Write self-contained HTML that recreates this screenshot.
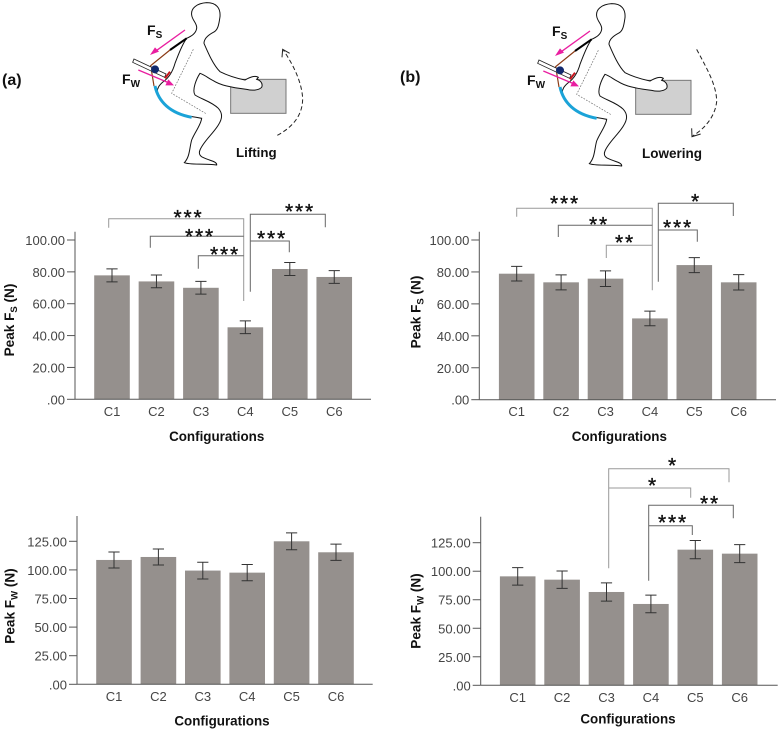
<!DOCTYPE html>
<html lang="en">
<head>
<meta charset="utf-8">
<title>Peak Fs and Fw by configuration</title>
<style>
html,body{margin:0;padding:0;background:#fff;width:779px;height:731px;overflow:hidden}
svg{display:block}
text{font-family:"Liberation Sans",Arial,sans-serif}
.star{font-size:21px;letter-spacing:1.8px;fill:#111;stroke:#111;stroke-width:.35;text-anchor:middle}
.lbl{font-weight:bold;fill:#111}
.br{fill:none;stroke:#666;stroke-width:1}
.brl{fill:none;stroke:#999;stroke-width:1}
</style>
</head>
<body>
<svg id="figure" width="779" height="731" viewBox="0 0 779 731" xmlns="http://www.w3.org/2000/svg">
  <defs>
    <g id="person">
      <rect x="692" y="238" width="166" height="102" fill="#d0d0d0" stroke="#777" stroke-width="3"/>
      <path d="M620 8C590 10 572 25 575 45C577 62 592 70 590 85C588 100 575 108 560 115C545 135 535 165 525 190C518 215 508 232 490 245C478 255 470 265 472 280C478 300 488 310 499 318C520 335 550 347 590 352L605 355C603 375 585 395 575 420C568 445 570 470 553 488C570 495 610 490 650 495C652 485 630 482 615 475C600 470 595 462 600 450C610 425 640 400 655 375C668 355 668 340 655 325C635 305 605 298 585 285C575 270 590 235 600 220C615 225 625 235 640 242C660 255 690 262 740 268C755 272 775 272 785 262C790 250 780 240 770 238L775 232C765 225 750 232 735 240C710 235 680 225 660 215C640 195 625 160 612 130C612 115 625 105 640 97C655 90 657 70 660 50C662 25 650 8 620 8Z" fill="#fff" stroke="#111" stroke-width="3"/>
      <path d="M580 148L515 280L620 342" fill="none" stroke="#666" stroke-width="2" stroke-dasharray="5 4"/>
      <path d="M465 258C475 305 510 340 575 352" fill="none" stroke="#1ba3d8" stroke-width="9"/>
      <path d="M510 150L452 197L462 258" fill="none" stroke="#8a3a14" stroke-width="3.5"/>
      <path d="M510 150L560 115" fill="none" stroke="#000" stroke-width="6"/>
      <path d="M402 177L498 222L494 232L398 187Z" fill="#fff" stroke="#222" stroke-width="2.5"/>
      <path d="M495 235L510 215" fill="none" stroke="#c8141c" stroke-width="6"/>
      <circle cx="465" cy="208" r="12" fill="#12296e"/>
      <path d="M555 90L462 157" fill="none" stroke="#e91ea0" stroke-width="4"/>
      <path d="M450 165L477 155L465 142Z" fill="#e91ea0"/>
      <path d="M415 210L505 248" fill="none" stroke="#e91ea0" stroke-width="4"/>
      <path d="M522 256L496 256L505 238Z" fill="#e91ea0"/>
    </g>
  </defs>

  <g id="illustration-a" transform="scale(0.33333)">
    <use href="#person"/>
    <path d="M832 406C880 380 908 345 908 295C905 245 880 195 850 150" fill="none" stroke="#222" stroke-width="3" stroke-dasharray="13 8"/>
    <path d="M846 172L848 148L869 160" fill="none" stroke="#222" stroke-width="3"/>
  </g>
  <g id="illustration-b" transform="translate(405 1) scale(0.33333)">
    <use href="#person"/>
  </g>
  <g transform="translate(390 0) scale(0.33333)">
    <path d="M920 148C950 205 980 255 980 305C975 350 945 385 908 408" fill="none" stroke="#222" stroke-width="3" stroke-dasharray="13 8"/>
    <path d="M905 385L906 410L932 402" fill="none" stroke="#222" stroke-width="3"/>
  </g>

  <text class="lbl" x="2" y="85" font-size="16">(a)</text>
  <text class="lbl" x="400" y="82" font-size="16">(b)</text>
  <text class="lbl" x="236" y="157" font-size="13.3">Lifting</text>
  <text class="lbl" x="642" y="158" font-size="13.5">Lowering</text>
  <text class="lbl" x="147" y="35" font-size="14">F<tspan dy="3" font-size="10">S</tspan></text>
  <text class="lbl" x="122" y="84" font-size="14">F<tspan dy="3" font-size="10">W</tspan></text>
  <text class="lbl" x="552" y="36" font-size="14">F<tspan dy="3" font-size="10">S</tspan></text>
  <text class="lbl" x="527" y="85" font-size="14">F<tspan dy="3" font-size="10">W</tspan></text>

  <g id="chart-fs-lifting"></g>
  <g id="chart-fs-lowering"></g>
  <g id="chart-fw-lifting"></g>
  <g id="chart-fw-lowering"></g>

  <g>
    <path class="brl" d="M108.7 227.7V218.7H243.7V301"/>
    <path class="br" d="M150.3 247.7V236.3H243.7"/>
    <path class="br" d="M198.3 268.7V255.7H243.7"/>
    <path class="br" d="M250.3 291.7V214.3H325.3V227.3"/>
    <path class="br" d="M250.3 241H289.3V252.3"/>
    <text class="star" x="188.5" y="224.5">***</text>
    <text class="star" x="200" y="243.5">***</text>
    <text class="star" x="225" y="261.5">***</text>
    <text class="star" x="272" y="245.5">***</text>
    <text class="star" x="300" y="218.5">***</text>
  </g>
  <g>
    <path class="brl" d="M516.7 216.7V208.3H652.3V290.3"/>
    <path class="br" d="M558.3 237V225.3H652.3"/>
    <path class="brl" d="M606.3 258V245.3H652.3"/>
    <path class="br" d="M658.3 281.7V203.3H733.3V216"/>
    <path class="br" d="M658.3 230H697.3V241.7"/>
    <text class="star" x="565" y="210.5">***</text>
    <text class="star" x="599" y="231.5">**</text>
    <text class="star" x="625" y="249.5">**</text>
    <text class="star" x="678" y="234.5">***</text>
    <text class="star" x="696" y="208.5">*</text>
  </g>
  <g>
    <path class="brl" d="M608.7 568.3V468.7H729V482.3"/>
    <path class="brl" d="M608.7 488H690.7V497.7"/>
    <path class="br" d="M648.7 580.7V505.3H733.3V518.3"/>
    <path class="br" d="M648.7 525.7H692.3V535"/>
    <text class="star" x="673" y="472.5">*</text>
    <text class="star" x="653" y="492.5">*</text>
    <text class="star" x="710" y="510.5">**</text>
    <text class="star" x="673" y="529.5">***</text>
  </g>
</svg>
<script>
const categories = ["C1", "C2", "C3", "C4", "C5", "C6"];

const fsTicks = [0, 20, 40, 60, 80, 100];
const fsTickLabels = [".00", "20.00", "40.00", "60.00", "80.00", "100.00"];
const fwTicks = [0, 25, 50, 75, 100, 125];
const fwTickLabels = [".00", "25.00", "50.00", "75.00", "100.00", "125.00"];

const fsLiftingValues = [77.8, 74.0, 70.0, 45.2, 81.8, 76.8];
const fsLiftingErrors = [4.1, 4.0, 4.0, 4.0, 4.1, 4.0];
const fsLoweringValues = [78.9, 73.5, 75.8, 50.9, 84.3, 73.5];
const fsLoweringErrors = [4.6, 4.7, 4.9, 4.6, 4.7, 4.8];
const fwLiftingValues = [108.7, 111.3, 99.4, 97.6, 125.0, 115.4];
const fwLiftingErrors = [7.0, 7.0, 7.3, 7.1, 7.4, 7.1];
const fwLoweringValues = [95.5, 92.6, 81.8, 71.3, 118.9, 115.4];
const fwLoweringErrors = [7.7, 7.6, 8.0, 7.7, 8.0, 7.9];

const NS = "http://www.w3.org/2000/svg";

function mk(parent, tag, attrs, text) {
  const el = document.createElementNS(NS, tag);
  for (const k in attrs) el.setAttribute(k, attrs[k]);
  if (text !== undefined) el.textContent = text;
  parent.appendChild(el);
  return el;
}

function drawChart(o) {
  const g = document.getElementById(o.id);
  const y = v => o.y0 - (v / o.tickMax) * (o.y0 - o.yTickMax);
  const x = i => o.x1 + i * o.step;

  o.values.forEach((v, i) => {
    const bar = mk(g, "rect", { x: x(i) - 17.8, y: y(v), width: 35.6, height: o.y0 - y(v), fill: "#95908d" });
    
    
  });

  o.values.forEach((v, i) => {
    const hi = y(v + o.errors[i]), lo = y(v - o.errors[i]), c = x(i);
    const err = mk(g, "path", {
      d: "M" + (c - 5.6) + " " + hi + "H" + (c + 5.6) + "M" + c + " " + hi + "V" + lo + "M" + (c - 5.6) + " " + lo + "H" + (c + 5.6),
      fill: "none", stroke: "#333", "stroke-width": 1
    });
    
    
  });

  const yAxis = mk(g, "line", { x1: o.axisX, x2: o.axisX, y1: o.axisTop, y2: o.y0, stroke: "#555", "stroke-width": 1 });
  
  
  const xAxis = mk(g, "line", { x1: o.axisX, x2: o.axisRight, y1: o.y0, y2: o.y0, stroke: "#555", "stroke-width": 1 });
  
  

  o.ticks.forEach((t, i) => {
    const tick = mk(g, "line", { x1: o.axisX - 8, x2: o.axisX, y1: y(t), y2: y(t), stroke: "#555", "stroke-width": 1 });
    
    
    const lab = mk(g, "text", { x: o.axisX - 10, y: y(t) + 5, "text-anchor": "end", "font-size": 13, fill: "#444" }, o.tickLabels[i]);
    
    
  });

  categories.forEach((c, i) => {
    const lab = mk(g, "text", { x: x(i), y: o.y0 + 16.5, "text-anchor": "middle", "font-size": 13, fill: "#444" }, c);
    
    
  });

  const xt = mk(g, "text", { x: o.xTitleX, y: o.xTitleY, "text-anchor": "middle", "font-size": 13.4, "font-weight": "bold", fill: "#111" }, "Configurations");
  
  

  const yt = mk(g, "text", {
    transform: "translate(" + o.yTitleX + " " + o.yTitleY + ") rotate(-90)",
    "text-anchor": "middle", "font-size": 13.6, "font-weight": "bold", fill: "#111"
  });
  
  
  mk(yt, "tspan", {}, "Peak F");
  mk(yt, "tspan", { dy: 3, "font-size": 9.5 }, o.sub);
  mk(yt, "tspan", { dy: -3 }, " (N)");
}

drawChart({ id: "chart-fs-lifting", values: fsLiftingValues, errors: fsLiftingErrors, ticks: fsTicks, tickLabels: fsTickLabels,
  tickMax: 100, sub: "S", axisX: 75, axisRight: 371, axisTop: 231.7, y0: 399.3, yTickMax: 240, x1: 112, step: 44.45,
  xTitleX: 216.7, xTitleY: 441, yTitleX: 14, yTitleY: 320 });
drawChart({ id: "chart-fs-lowering", values: fsLoweringValues, errors: fsLoweringErrors, ticks: fsTicks, tickLabels: fsTickLabels,
  tickMax: 100, sub: "S", axisX: 479.3, axisRight: 776, axisTop: 231.7, y0: 399.7, yTickMax: 240, x1: 516.7, step: 44.4,
  xTitleX: 619.3, xTitleY: 441, yTitleX: 420.5, yTitleY: 312 });
drawChart({ id: "chart-fw-lifting", values: fwLiftingValues, errors: fwLiftingErrors, ticks: fwTicks, tickLabels: fwTickLabels,
  tickMax: 125, sub: "W", axisX: 77, axisRight: 372.7, axisTop: 516, y0: 684.3, yTickMax: 541.3, x1: 114, step: 44.4,
  xTitleX: 222, xTitleY: 725.5, yTitleX: 14.5, yTitleY: 606 });
drawChart({ id: "chart-fw-lowering", values: fwLoweringValues, errors: fwLoweringErrors, ticks: fwTicks, tickLabels: fwTickLabels,
  tickMax: 125, sub: "W", axisX: 480.7, axisRight: 777.7, axisTop: 516.7, y0: 685.3, yTickMax: 542.7, x1: 517.7, step: 44.4,
  xTitleX: 628, xTitleY: 723.5, yTitleX: 420.5, yTitleY: 611 });
</script>
</body>
</html>
